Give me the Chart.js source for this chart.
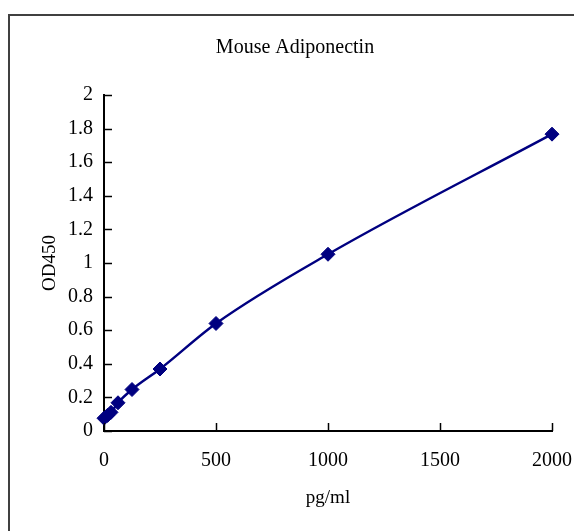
<!DOCTYPE html>
<html>
<head>
<meta charset="utf-8">
<script src="https://cdn.jsdelivr.net/npm/chart.js@4"></script>
<style>
  html, body { margin: 0; padding: 0; background: #fff; }
  #wrap { position: relative; width: 574px; height: 531px; overflow: hidden; }
  #frame { position: absolute; left: 8px; top: 14px; width: 700px; height: 700px;
           border-left: 2px solid #404040; border-top: 2px solid #404040; }
  canvas { position: absolute; left: 0; top: 0; }
</style>
</head>
<body>
<div id="wrap">
  <div id="frame"></div>
  <canvas id="c" width="574" height="531"></canvas>
</div>
<script>
const concentrations = [0, 15.6, 31.25, 62.5, 125, 250, 500, 1000, 2000];
const od450 = [0.076, 0.093, 0.111, 0.168, 0.247, 0.369, 0.640, 1.052, 1.767];
const xTickValues = [0, 500, 1000, 1500, 2000];
const yTickValues = [0, 0.2, 0.4, 0.6, 0.8, 1, 1.2, 1.4, 1.6, 1.8, 2];

const FONT = "'Liberation Serif', 'Times New Roman', serif";

const innerTicks = {
  id: 'innerTicks',
  afterDatasetsDraw(chart) {
    const ctx = chart.ctx;
    const xs = chart.scales.x, ys = chart.scales.y;
    const area = chart.chartArea;
    ctx.save();
    ctx.strokeStyle = '#000';
    ctx.lineWidth = 1.5;
    xTickValues.forEach(v => {
      const px = Math.round(xs.getPixelForValue(v)) + 0.5;
      ctx.beginPath();
      ctx.moveTo(px, area.bottom);
      ctx.lineTo(px, area.bottom - 8);
      ctx.stroke();
    });
    yTickValues.forEach(v => {
      const py = Math.round(ys.getPixelForValue(v)) + 0.5;
      ctx.beginPath();
      ctx.moveTo(area.left, py);
      ctx.lineTo(area.left + 8, py);
      ctx.stroke();
    });
    ctx.restore();
  }
};

new Chart(document.getElementById('c'), {
  type: 'scatter',
  data: {
    datasets: [{
      data: concentrations.map((x, i) => ({ x: x, y: od450[i] })),
      showLine: true,
      clip: false,
      borderColor: '#000080',
      backgroundColor: '#000080',
      borderWidth: 2.5,
      cubicInterpolationMode: 'monotone',
      pointStyle: 'rectRot',
      pointRadius: 7,
      pointBorderWidth: 1,
      pointBackgroundColor: '#000080',
      pointBorderColor: '#000080'
    }]
  },
  plugins: [innerTicks],
  options: {
    responsive: false,
    animation: false,
    devicePixelRatio: 1,
    layout: { padding: { left: 38, right: 22, top: 0, bottom: 0 } },
    plugins: {
      legend: { display: false },
      tooltip: { enabled: false },
      title: {
        display: true,
        text: 'Mouse Adiponectin',
        color: '#000',
        font: { family: FONT, size: 20, weight: 'normal', lineHeight: 1.2 },
        padding: { top: 36, bottom: 35 }
      }
    },
    scales: {
      x: {
        type: 'linear',
        min: 0, max: 2000,
        afterBuildTicks(scale) { scale.ticks = xTickValues.map(v => ({ value: v })); },
        afterFit(scale) { scale.height = 100; scale.paddingRight = 0; scale.paddingLeft = 0; },
        grid: { display: false, drawTicks: false },
        border: { display: true, color: '#000', width: 2 },
        ticks: {
          color: '#000',
          padding: 18,
          maxRotation: 0,
          font: { family: FONT, size: 20, lineHeight: 1.2 },
          callback: v => String(v)
        },
        title: {
          display: true,
          text: 'pg/ml',
          color: '#000',
          font: { family: FONT, size: 19, lineHeight: 1.2 },
          padding: { top: 0, bottom: 22 }
        }
      },
      y: {
        type: 'linear',
        min: 0, max: 2,
        afterBuildTicks(scale) { scale.ticks = yTickValues.map(v => ({ value: v })); },
        afterFit(scale) { scale.width = 66; scale.paddingTop = 0; scale.paddingBottom = 0; },
        grid: { display: false, drawTicks: false },
        border: { display: true, color: '#000', width: 2 },
        ticks: {
          color: '#000',
          padding: 11,
          font: { family: FONT, size: 20, lineHeight: 1.2 },
          callback: v => String(Number(v.toFixed(1)))
        },
        title: {
          display: true,
          text: 'OD450',
          color: '#000',
          font: { family: FONT, size: 19, lineHeight: 1.2 },
          padding: { top: 1, bottom: 0 }
        }
      }
    }
  }
});
</script>
</body>
</html>
